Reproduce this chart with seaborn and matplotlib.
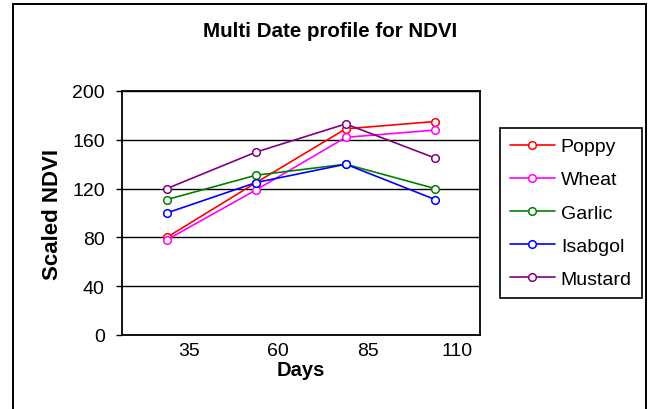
import matplotlib
matplotlib.use("Agg")
import matplotlib.pyplot as plt
import matplotlib.transforms as mtransforms
from matplotlib.patches import Rectangle
import seaborn as sns
import pandas as pd

# ---- data ----
days = [35, 60, 85, 110]
crops = ["Poppy", "Wheat", "Garlic", "Isabgol", "Mustard"]
poppy = [80, 125, 169, 175]
wheat = [78, 119, 162, 168]
garlic = [111, 131, 140, 120]
isabgol = [100, 125, 140, 111]
mustard = [120, 150, 173, 145]
colors = ["#FF0000", "#FF00FF", "#008000", "#0000FF", "#800080"]
y_ticks = [0, 40, 80, 120, 160, 200]
x_tick_labels = ["35", "60", "85", "110"]

series = {"Poppy": poppy, "Wheat": wheat, "Garlic": garlic,
          "Isabgol": isabgol, "Mustard": mustard}
df = pd.DataFrame([{"Days": d, "Crop": c, "NDVI": v}
                   for c in crops for d, v in zip(days, series[c])])

sns.set_style("white")
plt.rcParams["font.family"] = ["Liberation Sans", "DejaVu Sans"]
plt.rcParams["text.color"] = "black"

fig = plt.figure(figsize=(6.51, 4.10), dpi=100)
fig.patch.set_facecolor("white")
ax = fig.add_axes([122 / 651, 1 - 336 / 410, 358 / 651, 244 / 410])

for crop, col in zip(crops, colors):
    sub = df[df["Crop"] == crop]
    sns.lineplot(data=sub, x="Days", y="NDVI", ax=ax, color=col, label=crop,
                 marker="o", markersize=5.5, markerfacecolor="white",
                 markeredgecolor=col, markeredgewidth=1.1, linewidth=1.2)

ax.set_xlim(22.5, 122.5)
ax.set_ylim(0, 200)
ax.set_yticks(y_ticks)
ax.set_xticks(days)
ax.set_xticklabels(x_tick_labels)
ax.yaxis.grid(True, color="black", linewidth=1)
ax.xaxis.grid(False)
ax.set_axisbelow(True)
for s in ax.spines.values():
    s.set_color("black")
    s.set_linewidth(1.3)

ax.tick_params(axis="y", left=True, length=4.5, width=1, color="black",
               pad=8, labelsize=14, labelcolor="black")
ax.tick_params(axis="x", bottom=True, length=0, pad=5, labelsize=14,
               labelcolor="black")
shift = mtransforms.ScaledTranslation(0.22, 0, fig.dpi_scale_trans)
for lab in ax.get_xticklabels():
    lab.set_transform(lab.get_transform() + shift)

ax.set_xlabel("Days", fontsize=14.5, fontweight="bold", color="black")
ax.xaxis.label.set_va("top")
ax.xaxis.set_label_coords((301 - 122) / 358, (336 - 361) / 244)
ax.set_ylabel("Scaled NDVI", fontsize=16, fontweight="bold", color="black")
ax.yaxis.label.set_va("center")
ax.yaxis.set_label_coords((52 - 122) / 358, (336 - 215) / 244)

fig.text(330 / 651, 1 - 36.7 / 410, "Multi Date profile for NDVI",
         ha="center", va="baseline", fontsize=14.8, fontweight="bold",
         color="black")

leg = ax.legend(loc="upper left", bbox_to_anchor=(500 / 651, 1 - 129 / 410),
                bbox_transform=fig.transFigure, fontsize=14, frameon=True,
                fancybox=False, edgecolor="black", framealpha=1,
                borderpad=0.5, labelspacing=0.80, handlelength=2.33,
                handletextpad=0.3, borderaxespad=0, numpoints=1,
                labelcolor="black")
leg.get_frame().set_linewidth(1.2)

fig.add_artist(Rectangle((13 / 651, -0.05), (645.7 - 13) / 651,
                         1.05 - 4.5 / 410, transform=fig.transFigure,
                         fill=False, edgecolor="black", linewidth=1.4,
                         clip_on=False))

fig.savefig("out.png", dpi=100, facecolor="white")
